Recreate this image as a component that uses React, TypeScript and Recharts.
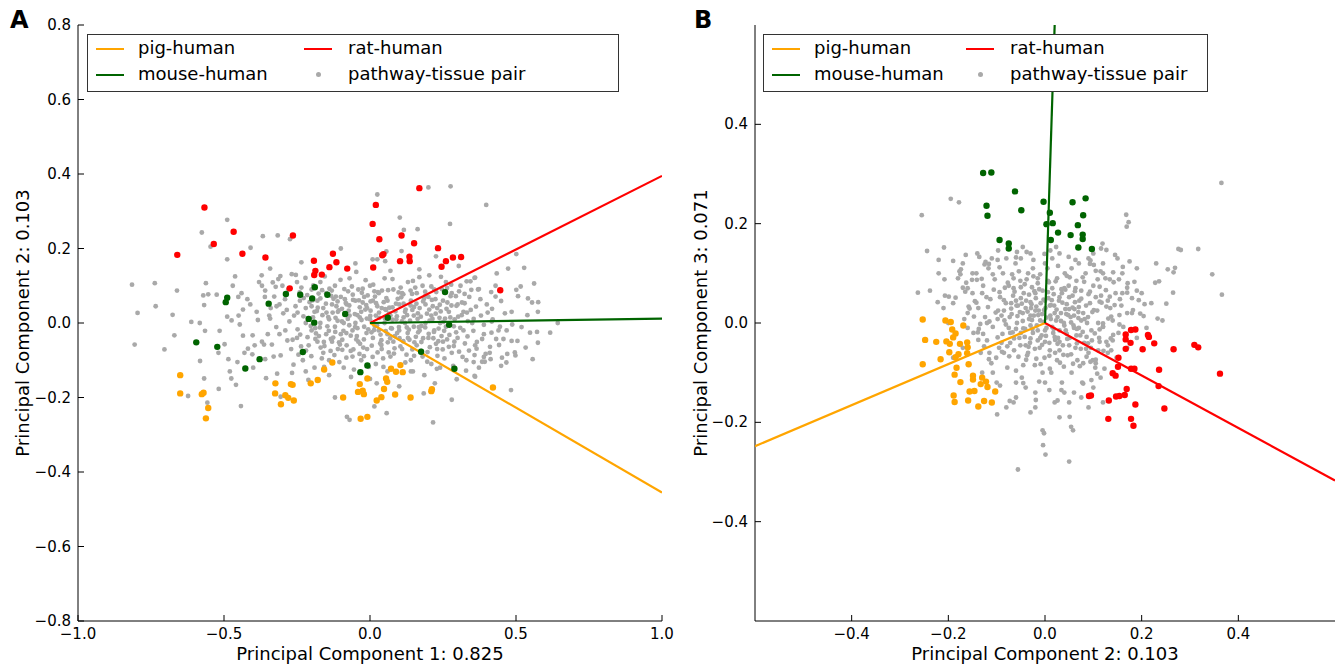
import React from 'react';
import { ScatterChart, Scatter, XAxis, YAxis } from 'recharts';

type Pt = [number, number];

// ---- Panel A: PC1 vs PC2 ----
const ticksAX = [-1.0, -0.5, 0.0, 0.5, 1.0];
const ticksAY = [-0.8, -0.6, -0.4, -0.2, 0.0, 0.2, 0.4, 0.6, 0.8];

const pigLineA: Pt[] = [[0, 0], [1.0, -0.455]];
const ratLineA: Pt[] = [[0, 0], [1.0, 0.395]];
const mouseLineA: Pt[] = [[0, 0], [1.0, 0.012]];

const pigA: Pt[] = [
  [-0.65, -0.14], [-0.65, -0.189], [-0.576, -0.191], [-0.57, -0.187], [-0.554, -0.228], [-0.562, -0.256],
  [-0.324, -0.162], [-0.271, -0.164], [-0.265, -0.166], [-0.325, -0.189], [-0.29, -0.194], [-0.28, -0.201],
  [-0.261, -0.208], [-0.305, -0.218], [-0.203, -0.162], [-0.179, -0.153], [-0.157, -0.125], [-0.129, -0.106],
  [-0.092, -0.2], [-0.035, -0.164], [-0.009, -0.149], [-0.041, -0.185], [-0.025, -0.182], [-0.021, -0.191],
  [-0.032, -0.257], [-0.009, -0.252], [0.072, -0.123], [0.089, -0.131], [0.112, -0.132], [0.104, -0.113],
  [0.055, -0.149], [0.059, -0.158], [0.048, -0.177], [0.023, -0.208], [0.039, -0.199], [0.086, -0.192],
  [0.139, -0.2], [0.21, -0.183], [0.212, -0.178], [0.421, -0.173],
];
const ratA: Pt[] = [
  [-0.567, 0.31], [-0.66, 0.183], [-0.467, 0.245], [-0.535, 0.212], [-0.437, 0.186], [-0.358, 0.176],
  [-0.264, 0.235], [-0.192, 0.167], [-0.127, 0.186], [-0.115, 0.163], [-0.187, 0.14], [-0.191, 0.129],
  [-0.165, 0.13], [-0.139, 0.15], [-0.078, 0.146], [-0.275, 0.093], [0.169, 0.362], [0.02, 0.317],
  [0.009, 0.266], [0.032, 0.225], [0.108, 0.235], [0.151, 0.214], [0.046, 0.185], [0.042, 0.182],
  [0.103, 0.166], [0.135, 0.178], [0.136, 0.166], [0.233, 0.201], [0.26, 0.166], [0.284, 0.176],
  [0.312, 0.177], [0.245, 0.151], [0.011, 0.149], [0.446, 0.088],
];
const mouseA: Pt[] = [
  [-0.189, 0.096], [-0.288, 0.078], [-0.239, 0.076], [-0.198, 0.066], [-0.146, 0.076], [-0.489, 0.068],
  [-0.494, 0.056], [-0.347, 0.052], [-0.085, 0.024], [-0.21, 0.011], [-0.191, 0.001], [0.061, 0.014],
  [0.257, 0.083], [0.271, -0.005], [-0.595, -0.052], [-0.523, -0.064], [-0.378, -0.097], [-0.427, -0.122],
  [-0.23, -0.078], [-0.033, -0.132], [-0.009, -0.114], [0.175, -0.077], [0.289, -0.123],
];
const grayA: Pt[] = [
  // outer points, left side
  [-0.489, 0.277], [-0.576, 0.243], [-0.546, 0.205], [-0.489, 0.171], [-0.367, 0.233], [-0.316, 0.235],
  [-0.409, 0.202], [-0.462, 0.125], [-0.562, 0.107], [-0.815, 0.103], [-0.737, 0.107], [-0.661, 0.087],
  [-0.734, 0.045], [-0.796, 0.027], [-0.676, 0.022], [-0.612, 0.003], [-0.806, -0.058], [-0.704, -0.071],
  [-0.67, -0.033], [-0.582, -0.102], [-0.568, -0.149], [-0.623, -0.196], [-0.557, -0.214], [-0.518, -0.177],
  [-0.475, -0.149], [-0.459, -0.166], [-0.442, -0.223], [-0.571, 0.074], [-0.554, 0.077], [-0.568, 0.048],
  [-0.583, 0.0], [-0.565, -0.021], [-0.489, 0.017], [-0.515, -0.021], [-0.519, -0.08], [-0.485, -0.097],
  [-0.498, -0.057], [-0.454, -0.105], [-0.446, -0.004], [-0.474, 0.007], [-0.525, 0.076], [-0.44, 0.08],
  [-0.451, 0.07], [-0.435, 0.036], [-0.42, 0.064], [-0.435, -0.034], [-0.418, -0.069], [-0.403, -0.084],
  [-0.359, -0.097], [-0.363, -0.058], [-0.402, -0.033], [-0.384, 0.008], [-0.37, 0.1], [-0.359, 0.087],
  [-0.342, 0.146], [-0.307, 0.126], [-0.371, 0.128], [-0.333, 0.109], [-0.323, 0.097], [-0.32, 0.045],
  [-0.356, -0.148], [-0.318, -0.136], [-0.267, -0.134], [-0.306, -0.198], [-0.235, 0.163], [-0.254, 0.129],
  [-0.211, -0.153], [-0.274, 0.225], [-0.388, 0.03], [-0.395, -0.06], [-0.345, 0.02], [-0.35, -0.03],
  // upper middle
  [0.025, 0.345], [0.2, 0.364], [0.276, 0.367], [0.398, 0.317], [0.102, 0.283], [0.274, 0.266],
  [0.116, 0.25], [0.163, 0.252], [0.108, 0.193], [0.056, 0.192], [0.025, 0.171], [0.009, 0.171],
  [0.052, 0.166], [0.169, 0.144], [0.203, 0.128], [0.226, 0.179], [0.147, 0.113], [0.243, 0.124],
  [0.304, 0.153], [0.331, 0.112], [0.36, 0.122], [-0.05, 0.16], [-0.1, 0.2], [0.07, 0.14],
  // right side
  [0.501, 0.185], [0.434, 0.133], [0.473, 0.146], [0.528, 0.148], [0.358, 0.121], [0.562, 0.106],
  [0.516, 0.098], [0.501, 0.089], [0.373, 0.091], [0.415, 0.083], [0.541, 0.066], [0.576, 0.056],
  [0.555, 0.055], [0.507, 0.072], [0.449, 0.059], [0.418, 0.038], [0.363, 0.044], [0.485, 0.03],
  [0.462, 0.026], [0.575, 0.03], [0.539, 0.021], [0.643, 0.0], [0.617, -0.026], [0.572, -0.024],
  [0.548, -0.026], [0.519, -0.011], [0.487, -0.004], [0.468, -0.02], [0.445, -0.01], [0.417, 0.004],
  [0.39, -0.005], [0.384, -0.043], [0.432, -0.043], [0.457, -0.043], [0.485, -0.048], [0.505, -0.048],
  [0.575, -0.053], [0.442, -0.059], [0.411, -0.064], [0.365, -0.069], [0.533, -0.066], [0.496, -0.079],
  [0.47, -0.083], [0.396, -0.083], [0.358, -0.086], [0.413, -0.097], [0.452, -0.093], [0.498, -0.087],
  [0.557, -0.097], [0.467, -0.106], [0.393, -0.104], [0.449, -0.115], [0.373, -0.12], [0.358, -0.142],
  [0.483, -0.18],
  // lower middle
  [0.216, -0.267], [0.28, -0.206], [0.186, -0.14], [0.222, -0.162], [0.229, -0.123], [0.147, -0.13],
  [0.184, -0.189], [0.057, -0.242], [0.015, -0.224], [0.023, -0.162], [0.297, -0.151], [0.329, -0.128],
  [0.36, -0.144], [0.384, -0.104], [-0.079, -0.252], [-0.07, -0.26], [-0.12, -0.2], [0.1, -0.17],
  // dense core
  [-0.31, 0.05], [-0.29, -0.02], [-0.28, 0.09], [-0.27, -0.07], [-0.26, 0.02], [-0.25, 0.11],
  [-0.25, -0.04], [-0.24, 0.06], [-0.23, -0.1], [-0.22, 0.0], [-0.22, 0.04], [-0.21, -0.06],
  [-0.2, 0.09], [-0.2, -0.02], [-0.19, 0.03], [-0.19, -0.12], [-0.18, 0.06], [-0.18, -0.05],
  [-0.17, 0.0], [-0.17, 0.11], [-0.16, -0.08], [-0.16, 0.04], [-0.15, -0.03], [-0.15, 0.08],
  [-0.14, 0.01], [-0.14, -0.1], [-0.13, 0.05], [-0.13, -0.05], [-0.12, 0.1], [-0.12, -0.01],
  [-0.11, 0.03], [-0.11, -0.07], [-0.1, 0.07], [-0.1, -0.03], [-0.09, 0.0], [-0.09, -0.12],
  [-0.08, 0.05], [-0.08, -0.06], [-0.07, 0.12], [-0.07, 0.02], [-0.06, -0.02], [-0.06, -0.09],
  [-0.05, 0.06], [-0.05, 0.0], [-0.04, -0.05], [-0.04, 0.09], [-0.03, 0.03], [-0.03, -0.1],
  [-0.02, -0.01], [-0.02, 0.07], [-0.01, 0.04], [-0.01, -0.07], [0.0, 0.01], [0.0, 0.1],
  [0.01, -0.04], [0.01, 0.06], [0.02, -0.11], [0.02, 0.02], [0.03, -0.02], [0.03, 0.08],
  [0.04, 0.04], [0.04, -0.07], [0.05, 0.0], [0.05, 0.12], [0.06, -0.03], [0.06, 0.06],
  [0.07, -0.09], [0.07, 0.02], [0.08, 0.09], [0.08, -0.05], [0.09, 0.01], [0.09, -0.13],
  [0.1, 0.05], [0.1, -0.02], [0.11, 0.08], [0.11, -0.07], [0.12, 0.0], [0.12, 0.03],
  [0.13, -0.04], [0.13, 0.11], [0.14, 0.06], [0.14, -0.1], [0.15, -0.01], [0.15, 0.02],
  [0.16, 0.08], [0.16, -0.06], [0.17, 0.04], [0.17, -0.02], [0.18, -0.09], [0.18, 0.1],
  [0.19, 0.0], [0.19, 0.05], [0.2, -0.04], [0.2, 0.07], [0.21, -0.11], [0.21, 0.02],
  [0.22, 0.09], [0.22, -0.02], [0.23, 0.04], [0.23, -0.07], [0.24, 0.0], [0.25, 0.06],
  [0.25, -0.05], [0.26, 0.11], [0.26, -0.01], [0.27, 0.03], [0.28, -0.08], [0.28, 0.08],
  [0.29, 0.01], [0.3, -0.04], [0.3, 0.05], [0.31, 0.1], [0.32, -0.02], [0.32, 0.03],
  [0.33, -0.1], [0.34, 0.07], [0.35, 0.0], [0.36, -0.06], [0.37, 0.09], [0.38, 0.02],
  [0.39, -0.03], [0.4, 0.05], [0.41, -0.08], [0.42, 0.01], [0.43, 0.1], [0.44, -0.02],
  [-0.285, 0.035], [-0.245, -0.085], [-0.215, 0.075], [-0.175, -0.035], [-0.155, 0.125], [-0.135, -0.075],
  [-0.115, 0.045], [-0.095, -0.045], [-0.075, 0.085], [-0.055, -0.125], [-0.035, 0.015], [-0.015, 0.115],
  [0.005, -0.025], [0.025, 0.045], [0.045, -0.095], [0.065, 0.025], [0.085, -0.035], [0.105, 0.095],
  [0.125, -0.085], [0.145, 0.035], [0.165, -0.025], [0.185, 0.065], [0.205, -0.065], [0.225, 0.025],
  [0.245, -0.035], [0.265, 0.055], [0.285, -0.115], [0.305, 0.085], [0.325, -0.055], [0.345, 0.035],
  [-0.265, -0.045], [-0.235, 0.095], [-0.195, 0.015], [-0.165, -0.095], [-0.125, 0.065], [-0.085, 0.025],
  [-0.045, -0.035], [-0.025, 0.055], [0.015, 0.085], [0.035, -0.055], [0.055, 0.035], [0.075, -0.015],
  [0.095, 0.065], [0.115, 0.015], [0.135, -0.045], [0.155, 0.095], [0.175, -0.075], [0.195, 0.025],
  [0.215, 0.045], [0.235, -0.015], [0.255, -0.095], [0.275, 0.015], [0.295, -0.025], [0.315, 0.055],
  [0.335, 0.005], [0.355, -0.105], [-0.105, -0.105], [-0.065, -0.145], [0.0, -0.15], [0.06, -0.13],
  [-0.14, -0.14], [-0.22, -0.13], [0.14, -0.13], [0.24, -0.12],
  [-0.342, 0.012], [-0.336, -0.058], [-0.328, 0.071], [-0.321, -0.011], [-0.314, 0.118], [-0.306, -0.087],
  [-0.297, 0.026], [-0.291, 0.064], [-0.283, -0.047], [-0.276, 0.004], [-0.268, 0.131], [-0.262, -0.112],
  [-0.255, 0.045], [-0.248, -0.017], [-0.241, 0.082], [-0.236, -0.063], [-0.228, 0.018], [-0.221, 0.121],
  [-0.214, -0.038], [-0.207, 0.056], [-0.201, -0.089], [-0.194, 0.101], [-0.188, -0.014], [-0.182, 0.032],
  [-0.176, 0.079], [-0.169, -0.066], [-0.163, 0.021], [-0.157, -0.118], [-0.151, 0.052], [-0.146, -0.009],
  [-0.139, 0.092], [-0.134, -0.043], [-0.128, 0.028], [-0.122, -0.086], [-0.117, 0.071], [-0.111, 0.006],
  [-0.106, -0.052], [-0.101, 0.116], [-0.096, 0.038], [-0.091, -0.021], [-0.086, 0.064], [-0.081, -0.093],
  [-0.076, 0.011], [-0.071, 0.047], [-0.066, -0.034], [-0.062, 0.098], [-0.057, -0.071], [-0.052, 0.024],
  [-0.047, 0.137], [-0.043, -0.014], [-0.038, 0.061], [-0.034, -0.056], [-0.029, 0.008], [-0.025, 0.092],
  [-0.021, -0.089], [-0.016, 0.036], [-0.012, -0.027], [-0.008, 0.074], [-0.004, -0.118], [0.001, 0.019],
  [0.006, -0.061], [0.011, 0.103], [0.016, -0.008], [0.021, 0.053], [0.026, -0.079], [0.031, 0.028],
  [0.036, -0.031], [0.041, 0.087], [0.046, -0.118], [0.051, 0.012], [0.056, 0.067], [0.061, -0.052],
  [0.066, 0.041], [0.072, -0.014], [0.077, 0.118], [0.082, -0.082], [0.087, 0.031], [0.093, -0.027],
  [0.098, 0.082], [0.104, -0.063], [0.109, 0.004], [0.115, 0.052], [0.121, -0.106], [0.127, 0.021],
  [0.133, -0.018], [0.139, 0.087], [0.145, -0.071], [0.151, 0.043], [0.157, -0.037], [0.163, 0.011],
  [0.169, 0.123], [0.176, -0.051], [0.182, 0.058], [0.189, -0.012], [0.196, -0.104], [0.203, 0.036],
  [0.21, 0.098], [0.217, -0.041], [0.224, 0.064], [0.231, -0.088], [0.238, 0.014], [0.246, 0.091],
  [0.254, -0.021], [0.262, 0.038], [0.27, -0.064], [0.278, 0.103], [0.287, -0.009], [0.296, 0.046],
  [0.305, -0.077], [0.314, 0.021], [0.324, 0.078], [0.334, -0.036], [0.344, 0.112], [0.355, 0.011],
  [0.366, -0.051], [0.378, 0.064], [0.39, -0.091], [0.403, 0.028], [0.416, -0.026], [0.43, 0.071],
  [-0.2, 0.045], [-0.185, -0.028], [-0.17, 0.066], [-0.158, -0.051], [-0.143, 0.016], [-0.131, 0.087],
  [-0.119, -0.024], [-0.107, 0.034], [-0.095, -0.072], [-0.083, 0.054], [-0.071, -0.006], [-0.059, 0.076],
  [-0.047, -0.044], [-0.035, 0.042], [-0.023, -0.066], [-0.011, 0.012], [0.002, 0.058], [0.014, -0.019],
  [0.027, 0.083], [0.039, -0.046], [0.052, 0.037], [0.064, -0.079], [0.077, 0.009], [0.089, 0.052],
  [0.101, -0.041], [0.114, 0.077], [0.126, -0.012], [0.139, 0.047], [0.151, -0.088], [0.164, 0.026],
  [0.176, -0.008], [0.189, 0.084], [0.201, -0.029], [0.214, 0.011], [0.226, -0.056], [0.239, 0.049],
  [0.251, 0.003], [0.264, -0.044], [0.276, 0.072], [0.289, -0.05], [-0.31, -0.03], [-0.3, 0.1],
  [-0.34, 0.04], [-0.33, -0.09], [-0.36, 0.07], [-0.37, -0.05], [-0.38, 0.11], [-0.4, -0.12],
  [-0.41, 0.05], [-0.43, -0.08], [-0.45, 0.02], [-0.47, 0.1], [-0.48, -0.13],
  [-0.248, 0.028], [-0.239, -0.031], [-0.227, 0.067], [-0.219, -0.074], [-0.212, 0.013], [-0.203, -0.008],
  [-0.196, 0.061], [-0.187, -0.043], [-0.179, 0.041], [-0.172, -0.012], [-0.164, 0.088], [-0.156, -0.062],
  [-0.149, 0.028], [-0.141, -0.021], [-0.133, 0.073], [-0.126, -0.039], [-0.118, 0.014], [-0.111, 0.058],
  [-0.103, -0.058], [-0.096, 0.004], [-0.088, 0.091], [-0.081, -0.027], [-0.073, 0.033], [-0.066, -0.075],
  [-0.058, 0.062], [-0.051, -0.011], [-0.043, 0.021], [-0.036, -0.083], [-0.028, 0.081], [-0.021, -0.044],
  [-0.013, 0.048], [-0.006, -0.017], [0.002, 0.033], [0.009, -0.091], [0.017, 0.071], [0.024, -0.006],
  [0.032, 0.014], [0.039, -0.059], [0.047, 0.056], [0.054, -0.022], [0.062, 0.088], [0.069, -0.041],
  [0.077, 0.042], [0.084, -0.068], [0.092, 0.018], [0.099, -0.011], [0.107, 0.069], [0.114, -0.049],
  [0.122, 0.036], [0.129, -0.027], [0.137, 0.006], [0.144, 0.078], [0.152, -0.052], [0.159, 0.052],
  [0.167, -0.011], [0.174, 0.017], [0.182, -0.041], [0.189, 0.072], [0.197, -0.078], [0.204, 0.006],
  [0.212, 0.062], [0.219, -0.024], [0.227, 0.083], [0.234, -0.049], [0.242, 0.031], [0.249, -0.071],
  [0.257, 0.012], [0.264, 0.094], [0.272, -0.032], [0.279, 0.047], [0.287, -0.062], [0.294, 0.072],
  [0.302, 0.017], [0.309, -0.013], [0.317, -0.091], [0.324, 0.053], [0.332, 0.028], [0.339, -0.074],
  [0.347, 0.089], [0.354, -0.021],
];

// ---- Panel B: PC2 vs PC3 ----
const ticksBX = [-0.4, -0.2, 0.0, 0.2, 0.4];
const ticksBY = [-0.4, -0.2, 0.0, 0.2, 0.4];

const pigLineB: Pt[] = [[0, 0], [-0.6, -0.248]];
const ratLineB: Pt[] = [[0, 0], [0.6, -0.317]];
const mouseLineB: Pt[] = [[0, 0], [0.02, 0.6]];

const pigB: Pt[] = [
  [-0.253, 0.007], [-0.248, -0.034], [-0.253, -0.083], [-0.206, 0.005], [-0.195, 0.002], [-0.169, -0.005],
  [-0.192, -0.013], [-0.185, -0.021], [-0.19, -0.029], [-0.225, -0.038], [-0.204, -0.037], [-0.197, -0.042],
  [-0.176, -0.042], [-0.161, -0.039], [-0.16, -0.049], [-0.198, -0.059], [-0.179, -0.063], [-0.185, -0.069],
  [-0.161, -0.061], [-0.216, -0.073], [-0.158, -0.083], [-0.183, -0.09], [-0.187, -0.104], [-0.175, -0.119],
  [-0.149, -0.106], [-0.149, -0.114], [-0.13, -0.11], [-0.122, -0.118], [-0.133, -0.123], [-0.119, -0.129],
  [-0.146, -0.137], [-0.156, -0.138], [-0.103, -0.138], [-0.189, -0.146], [-0.187, -0.159], [-0.159, -0.156],
  [-0.126, -0.157], [-0.11, -0.16], [-0.138, -0.168],
];
const ratB: Pt[] = [
  [0.167, -0.023], [0.178, -0.014], [0.187, -0.013], [0.213, -0.024], [0.215, -0.028], [0.167, -0.033],
  [0.177, -0.04], [0.226, -0.041], [0.167, -0.052], [0.202, -0.053], [0.266, -0.053], [0.309, -0.044],
  [0.317, -0.049], [0.152, -0.07], [0.151, -0.088], [0.178, -0.092], [0.185, -0.092], [0.236, -0.094],
  [0.362, -0.102], [0.14, -0.101], [0.146, -0.106], [0.235, -0.127], [0.169, -0.133], [0.095, -0.146],
  [0.091, -0.147], [0.147, -0.148], [0.154, -0.147], [0.165, -0.145], [0.132, -0.156], [0.187, -0.164],
  [0.247, -0.172], [0.131, -0.193], [0.178, -0.193], [0.183, -0.207],
];
const mouseB: Pt[] = [
  [-0.128, 0.302], [-0.111, 0.303], [-0.062, 0.265], [-0.121, 0.236], [-0.119, 0.216], [-0.049, 0.227],
  [-0.003, 0.244], [0.01, 0.222], [0.003, 0.199], [0.016, 0.201], [0.027, 0.182], [0.012, 0.167],
  [0.057, 0.243], [0.084, 0.251], [0.079, 0.217], [0.068, 0.197], [0.078, 0.178], [0.078, 0.169],
  [0.053, 0.177], [0.069, 0.152], [0.097, 0.149], [-0.094, 0.167], [-0.075, 0.16], [-0.075, 0.15],
];
const grayB: Pt[] = [
  // outer points, left and bottom
  [-0.195, 0.25], [-0.178, 0.243], [-0.255, 0.217], [-0.244, 0.145], [-0.209, 0.152], [-0.22, 0.127],
  [-0.19, 0.125], [-0.164, 0.137], [-0.136, 0.133], [-0.097, 0.146], [-0.058, 0.143], [-0.046, 0.153],
  [-0.177, 0.104], [-0.208, 0.088], [-0.263, 0.061], [-0.238, 0.065], [-0.222, 0.042], [-0.207, 0.055],
  [-0.185, 0.051], [-0.158, 0.033], [-0.167, 0.008], [-0.134, -0.002], [-0.139, -0.019], [-0.138, -0.034],
  [-0.116, -0.073], [-0.108, -0.1], [-0.093, -0.126], [-0.073, -0.157], [-0.065, -0.16], [-0.099, -0.184],
  [-0.045, -0.121], [-0.019, -0.155], [-0.005, -0.216], [-0.004, -0.246], [-0.002, -0.222], [-0.056, -0.295],
  [0.001, -0.265], [0.051, -0.189], [0.054, -0.209], [0.058, -0.216], [0.05, -0.279], [0.026, -0.156],
  [0.034, -0.135], [0.009, -0.135], [-0.098, 0.127], [-0.123, 0.123], [-0.116, 0.119], [-0.06, 0.132],
  [-0.038, 0.143], [-0.024, 0.127], [-0.001, 0.139], [0.023, 0.153], [0.011, 0.146], [0.049, 0.133],
  [0.063, 0.127], [-0.174, 0.108], [-0.175, 0.098], [-0.163, 0.081], [-0.151, 0.087], [-0.141, 0.087],
  [-0.17, 0.071], [-0.156, 0.029], [-0.165, 0.063], [-0.199, 0.053], [-0.145, 0.044], [-0.147, 0.013],
  // right side
  [0.365, 0.282], [0.168, 0.218], [0.173, 0.203], [0.169, 0.194], [0.119, 0.16], [0.127, 0.147],
  [0.116, 0.15], [0.145, 0.137], [0.276, 0.149], [0.281, 0.147], [0.317, 0.149], [0.175, 0.124],
  [0.161, 0.113], [0.254, 0.108], [0.269, 0.111], [0.266, 0.102], [0.346, 0.098], [0.228, 0.081],
  [0.236, 0.084], [0.171, 0.08], [0.185, 0.083], [0.153, 0.088], [0.134, 0.088], [0.141, 0.102],
  [0.115, 0.104], [0.093, 0.119], [0.094, 0.126], [0.101, 0.117], [0.265, 0.061], [0.366, 0.057],
  [0.19, 0.065], [0.17, 0.061], [0.194, 0.046], [0.206, 0.038], [0.251, 0.039], [0.197, 0.019],
  [0.204, 0.014], [0.182, 0.026], [0.233, 0.009], [0.243, 0.005], [0.154, 0.016], [0.154, -0.003],
  [0.137, 0.013], [0.144, 0.036], [0.127, 0.033], [0.134, 0.053], [0.113, 0.073], [0.113, 0.043],
  [0.105, 0.052], [0.12, -0.001], [0.141, -0.024], [0.127, -0.038], [0.137, -0.055], [0.11, -0.055],
  [0.105, -0.081], [0.123, -0.092], [0.108, -0.102], [0.096, -0.115], [0.079, -0.122], [0.079, -0.081],
  [0.086, -0.068], [0.099, -0.075], [0.089, -0.041], [0.113, -0.038], [0.103, -0.021], [0.12, -0.007],
  // dense core
  [-0.15, 0.06], [-0.148, -0.02], [-0.142, 0.1], [-0.138, 0.03], [-0.133, -0.06], [-0.128, 0.075],
  [-0.124, 0.012], [-0.12, -0.035], [-0.117, 0.11], [-0.113, 0.048], [-0.108, -0.008], [-0.104, 0.088],
  [-0.101, -0.07], [-0.097, 0.025], [-0.094, 0.062], [-0.09, -0.04], [-0.087, 0.1], [-0.084, 0.005],
  [-0.081, 0.04], [-0.078, -0.09], [-0.075, 0.075], [-0.072, -0.02], [-0.069, 0.018], [-0.066, 0.055],
  [-0.064, -0.055], [-0.061, 0.12], [-0.058, 0.0], [-0.056, 0.035], [-0.053, -0.03], [-0.051, 0.085],
  [-0.048, -0.11], [-0.046, 0.02], [-0.044, 0.06], [-0.041, -0.012], [-0.039, 0.045], [-0.037, -0.065],
  [-0.035, 0.1], [-0.033, 0.008], [-0.031, -0.04], [-0.029, 0.03], [-0.027, 0.072], [-0.025, -0.02],
  [-0.023, 0.015], [-0.021, -0.085], [-0.019, 0.05], [-0.017, -0.005], [-0.015, 0.09], [-0.013, 0.025],
  [-0.011, -0.05], [-0.009, 0.04], [-0.007, -0.025], [-0.005, 0.065], [-0.003, 0.002], [-0.001, -0.07],
  [0.001, 0.03], [0.003, -0.01], [0.005, 0.11], [0.007, 0.05], [0.009, -0.04], [0.011, 0.015],
  [0.013, -0.1], [0.015, 0.07], [0.017, -0.02], [0.019, 0.035], [0.021, -0.06], [0.023, 0.005],
  [0.025, 0.09], [0.027, -0.03], [0.029, 0.045], [0.031, -0.08], [0.033, 0.02], [0.035, 0.06],
  [0.037, -0.045], [0.039, 0.0], [0.041, 0.1], [0.043, -0.015], [0.045, 0.038], [0.047, -0.065],
  [0.049, 0.075], [0.051, -0.03], [0.053, 0.012], [0.055, -0.1], [0.057, 0.055], [0.059, -0.005],
  [0.061, 0.028], [0.063, -0.05], [0.065, 0.085], [0.067, -0.075], [0.069, 0.01], [0.071, 0.045],
  [0.073, -0.025], [0.075, 0.065], [0.077, -0.12], [0.079, 0.02], [0.081, -0.04], [0.084, 0.1],
  [0.087, 0.0], [0.09, -0.06], [0.093, 0.04], [0.096, -0.015], [0.1, 0.075], [0.104, -0.09],
  [0.108, 0.025], [0.112, -0.03], [0.116, 0.055], [0.12, -0.008], [0.125, 0.09], [0.13, -0.045],
  [0.135, 0.03], [0.14, 0.005], [0.146, 0.06], [0.152, -0.02], [0.158, 0.035],
  [-0.09, 0.015], [-0.07, 0.04], [-0.06, -0.012], [-0.05, 0.05], [-0.04, -0.045], [-0.03, 0.015],
  [-0.02, 0.06], [-0.01, -0.03], [0.0, 0.045], [0.01, -0.055], [0.02, 0.02], [0.03, -0.015],
  [0.04, 0.07], [0.05, -0.045], [0.06, 0.015], [0.07, -0.01], [-0.085, -0.06], [-0.065, 0.09],
  [-0.045, -0.085], [-0.025, 0.11], [-0.005, -0.1], [0.015, 0.13], [0.035, -0.12], [0.055, 0.11],
  [-0.11, 0.13], [-0.13, -0.1], [-0.16, 0.02], [-0.17, -0.05], [-0.18, 0.09], [0.17, -0.05],
  [0.18, 0.02], [0.19, -0.03], [-0.1, -0.12], [-0.06, -0.15], [-0.02, -0.14], [0.02, -0.16],
  [0.06, -0.14], [0.1, -0.13], [0.12, 0.12], [0.09, 0.13], [-0.08, 0.13], [-0.2, 0.0],
  [-0.19, -0.07], [0.2, 0.06], [0.16, 0.1], [-0.015, -0.035], [0.012, 0.008], [-0.028, 0.038],
  [0.026, -0.042], [-0.052, 0.022], [0.044, 0.018], [0.008, 0.082], [-0.012, -0.118], [0.062, 0.042],
  [-0.072, -0.04],
  [-0.142, 0.041], [-0.137, -0.012], [-0.131, 0.089], [-0.126, -0.047], [-0.121, 0.052], [-0.115, 0.003],
  [-0.111, -0.081], [-0.106, 0.067], [-0.102, 0.021], [-0.098, -0.029], [-0.094, 0.112], [-0.089, -0.058],
  [-0.085, 0.046], [-0.081, -0.003], [-0.077, 0.081], [-0.074, -0.067], [-0.07, 0.029], [-0.067, -0.019],
  [-0.063, 0.063], [-0.06, -0.096], [-0.057, 0.014], [-0.054, 0.104], [-0.051, -0.045], [-0.048, 0.039],
  [-0.045, -0.011], [-0.042, 0.078], [-0.039, -0.074], [-0.036, 0.023], [-0.033, 0.057], [-0.03, -0.031],
  [-0.027, 0.006], [-0.024, 0.094], [-0.021, -0.052], [-0.018, 0.033], [-0.015, -0.015], [-0.012, 0.068],
  [-0.009, -0.083], [-0.006, 0.018], [-0.003, 0.047], [0.0, -0.038], [0.003, 0.011], [0.006, 0.085],
  [0.009, -0.066], [0.012, 0.036], [0.015, -0.008], [0.018, 0.058], [0.021, -0.034], [0.024, 0.027],
  [0.027, 0.115], [0.03, -0.055], [0.033, 0.004], [0.036, 0.041], [0.039, -0.088], [0.042, 0.067],
  [0.045, -0.022], [0.048, 0.016], [0.051, 0.092], [0.054, -0.063], [0.057, 0.031], [0.06, -0.01],
  [0.063, 0.07], [0.066, -0.041], [0.069, 0.022], [0.072, -0.087], [0.075, 0.049], [0.078, -0.018],
  [0.081, 0.083], [0.085, -0.052], [0.089, 0.012], [0.093, 0.063], [0.097, -0.035], [0.101, 0.026],
  [0.105, -0.074], [0.109, 0.088], [0.113, -0.013], [0.117, 0.041], [0.121, -0.056], [0.126, 0.066],
  [0.131, 0.009], [0.136, -0.031], [0.142, 0.082], [0.148, -0.07], [0.155, 0.048], [0.162, -0.008],
  [0.17, 0.071], [-0.03, -0.005], [-0.02, 0.025], [-0.01, 0.005], [0.0, -0.015], [0.01, 0.035],
  [0.02, -0.028], [0.03, 0.052], [-0.04, 0.03], [-0.05, -0.02], [0.04, -0.005], [0.05, 0.028],
  [-0.06, 0.045], [0.065, -0.025], [-0.035, -0.06], [0.025, -0.075], [-0.015, 0.08], [0.045, 0.095],
  [-0.065, 0.07], [0.075, 0.005], [-0.075, -0.01], [0.085, 0.035], [-0.085, 0.025], [0.095, -0.05],
  [-0.095, -0.05], [0.0, 0.12], [0.0, -0.12], [-0.12, 0.0], [0.11, 0.0], [-0.13, 0.06],
  [0.13, -0.06], [-0.115, -0.06], [0.12, 0.1], [-0.04, -0.13], [0.04, -0.14], [-0.05, 0.13],
  [0.07, 0.12], [-0.16, 0.07], [0.18, 0.05], [-0.21, 0.03], [-0.22, 0.1], [0.21, -0.01],
  [0.22, 0.04], [0.09, -0.17], [0.03, -0.19], [-0.03, -0.18], [-0.08, -0.17], [0.12, -0.16],
  [-0.17, 0.12], [-0.14, 0.14], [0.15, 0.13], [0.19, 0.11], [0.23, 0.12],
  [-0.098, 0.008], [-0.093, 0.052], [-0.088, -0.022], [-0.083, 0.071], [-0.078, -0.047], [-0.073, 0.012],
  [-0.068, 0.098], [-0.064, -0.031], [-0.059, 0.035], [-0.055, -0.068], [-0.05, 0.072], [-0.046, 0.004],
  [-0.042, -0.028], [-0.038, 0.088], [-0.034, -0.048], [-0.03, 0.042], [-0.026, -0.012], [-0.022, 0.064],
  [-0.018, -0.072], [-0.014, 0.016], [-0.01, 0.098], [-0.006, -0.044], [-0.002, 0.026], [0.002, -0.026],
  [0.006, 0.062], [0.01, -0.092], [0.014, 0.046], [0.018, -0.012], [0.022, 0.084], [0.026, 0.012],
  [0.03, -0.038], [0.034, 0.068], [0.038, -0.064], [0.042, 0.028], [0.046, -0.032], [0.05, 0.052],
  [0.054, 0.001], [0.058, -0.082], [0.062, 0.064], [0.066, -0.012], [0.07, 0.032], [0.074, -0.052],
  [0.078, 0.092], [0.082, 0.008], [0.086, -0.028], [0.09, 0.058], [0.094, -0.078], [0.098, 0.022],
  [-0.118, 0.032], [-0.128, -0.022], [-0.108, 0.098], [-0.125, 0.118], [0.105, 0.105], [0.13, 0.045],
  [0.14, -0.035], [0.115, -0.11], [-0.06, -0.12], [0.05, -0.16], [-0.02, -0.17], [0.075, -0.15],
  [0.03, 0.14], [-0.03, 0.14], [0.1, 0.14], [-0.15, 0.1], [-0.19, 0.04], [-0.16, -0.01],
  [0.16, 0.06], [0.17, 0.02],
];

const ORANGE = '#ffa500';
const RED = '#ff0000';
const GREEN = '#006400';
const GRAY = '#a9a9a9';
const FONT = 'DejaVu Sans, Verdana, sans-serif';

const toXY = (pts: Pt[]) => pts.map(([x, y]) => ({ x, y }));
const fmt = (v: number) => (v < 0 ? '\u2212' : '') + Math.abs(v).toFixed(1);

const BottomTick = (p: any) => (
  <g>
    <line x1={p.x} y1={p.y} x2={p.x} y2={p.y - 6} stroke="#000" />
    <text x={p.x} y={p.y + 18} textAnchor="middle" fontSize={15} fontFamily={FONT} fill="#000">
      {fmt(p.payload.value)}
    </text>
  </g>
);
const TopTick = (p: any) => <line x1={p.x} y1={p.y} x2={p.x} y2={p.y + 6} stroke="#000" />;
const LeftTick = (p: any) => (
  <g>
    <line x1={p.x} y1={p.y} x2={p.x + 6} y2={p.y} stroke="#000" />
    <text x={p.x - 7} y={p.y + 5} textAnchor="end" fontSize={15} fontFamily={FONT} fill="#000">
      {fmt(p.payload.value)}
    </text>
  </g>
);
const RightTick = (p: any) => <line x1={p.x} y1={p.y} x2={p.x - 6} y2={p.y} stroke="#000" />;

const dot = (color: string, r: number) => (p: any) => <circle cx={p.cx} cy={p.cy} r={r} fill={color} />;
const noDot = () => <g />;

function Panel(props: {
  width: number;
  yAxisWidth: number;
  xDomain: [number, number];
  yDomain: [number, number];
  xTicks: number[];
  yTicks: number[];
  gray: Pt[];
  pig: Pt[];
  rat: Pt[];
  mouse: Pt[];
  pigLine: Pt[];
  ratLine: Pt[];
  mouseLine: Pt[];
  right: number;
}) {
  const axisLine = { stroke: '#000', strokeWidth: 1 };
  return (
    <ScatterChart width={props.width} height={666} margin={{ top: 25, right: props.right, bottom: 0, left: 0 }}>
      <XAxis type="number" dataKey="x" xAxisId="b" domain={props.xDomain} ticks={props.xTicks} allowDataOverflow
        height={45} tickSize={0} tickMargin={0} axisLine={axisLine} tick={BottomTick} interval={0} />
      <XAxis type="number" dataKey="x" xAxisId="t" orientation="top" domain={props.xDomain} ticks={props.xTicks}
        allowDataOverflow height={0} tickSize={0} tickMargin={0} axisLine={axisLine} tick={TopTick} interval={0} />
      <YAxis type="number" dataKey="y" yAxisId="l" domain={props.yDomain} ticks={props.yTicks} allowDataOverflow
        width={props.yAxisWidth} tickSize={0} tickMargin={0} axisLine={axisLine} tick={LeftTick} interval={0} />
      <YAxis type="number" dataKey="y" yAxisId="r" orientation="right" domain={props.yDomain} ticks={props.yTicks}
        allowDataOverflow width={0} tickSize={0} tickMargin={0} axisLine={axisLine} tick={RightTick} interval={0} />
      <Scatter xAxisId="b" yAxisId="l" data={toXY(props.gray)} shape={dot(GRAY, 2.4)} isAnimationActive={false} />
      <Scatter xAxisId="b" yAxisId="l" data={toXY(props.pigLine)} line={{ stroke: ORANGE, strokeWidth: 2.2 }}
        shape={noDot} isAnimationActive={false} />
      <Scatter xAxisId="b" yAxisId="l" data={toXY(props.ratLine)} line={{ stroke: RED, strokeWidth: 2.2 }}
        shape={noDot} isAnimationActive={false} />
      <Scatter xAxisId="b" yAxisId="l" data={toXY(props.mouseLine)} line={{ stroke: GREEN, strokeWidth: 2.2 }}
        shape={noDot} isAnimationActive={false} />
      <Scatter xAxisId="b" yAxisId="l" data={toXY(props.pig)} shape={dot(ORANGE, 3.2)} isAnimationActive={false} />
      <Scatter xAxisId="b" yAxisId="l" data={toXY(props.rat)} shape={dot(RED, 3.2)} isAnimationActive={false} />
      <Scatter xAxisId="b" yAxisId="l" data={toXY(props.mouse)} shape={dot(GREEN, 3.2)} isAnimationActive={false} />
    </ScatterChart>
  );
}

function Legend({ left, top, width, col2 }: { left: number; top: number; width: number; col2: number }) {
  const text: React.CSSProperties = { position: 'absolute', fontSize: 18, fontFamily: FONT, lineHeight: '20px', whiteSpace: 'nowrap' };
  const line = (x: number, y: number, c: string) => (
    <div style={{ position: 'absolute', left: x, top: y, width: 28, height: 2, background: c }} />
  );
  return (
    <div style={{ position: 'absolute', left, top, width, height: 58, border: '1px solid #333', background: '#fff', boxSizing: 'border-box' }}>
      {line(8, 13, ORANGE)}
      <span style={{ ...text, left: 50, top: 3 }}>pig-human</span>
      {line(8, 39, GREEN)}
      <span style={{ ...text, left: 50, top: 29 }}>mouse-human</span>
      {line(col2, 13, RED)}
      <span style={{ ...text, left: col2 + 44, top: 3 }}>rat-human</span>
      <div style={{ position: 'absolute', left: col2 + 12, top: 37, width: 5, height: 5, borderRadius: 3, background: GRAY }} />
      <span style={{ ...text, left: col2 + 44, top: 29 }}>pathway-tissue pair</span>
    </div>
  );
}

export default function App() {
  const label: React.CSSProperties = { position: 'absolute', fontSize: 18, fontFamily: FONT, whiteSpace: 'nowrap', color: '#000' };
  return (
    <div style={{ position: 'absolute', left: 0, top: 0, width: 1336, height: 666, background: '#fff', overflow: 'hidden' }}>
      <div style={{ position: 'absolute', left: 0, top: 0 }}>
        <Panel width={690} yAxisWidth={78} right={28} xDomain={[-1, 1]} yDomain={[-0.8, 0.8]} xTicks={ticksAX} yTicks={ticksAY}
          gray={grayA} pig={pigA} rat={ratA} mouse={mouseA} pigLine={pigLineA} ratLine={ratLineA} mouseLine={mouseLineA} />
      </div>
      <div style={{ position: 'absolute', left: 680, top: 0 }}>
        <Panel width={656} yAxisWidth={75} right={1} xDomain={[-0.6, 0.6]} yDomain={[-0.6, 0.6]} xTicks={ticksBX} yTicks={ticksBY}
          gray={grayB} pig={pigB} rat={ratB} mouse={mouseB} pigLine={pigLineB} ratLine={ratLineB} mouseLine={mouseLineB} />
      </div>
      <Legend left={87} top={34} width={532} col2={216} />
      <Legend left={763} top={34} width={445} col2={202} />
      <div style={{ ...label, left: 10, top: 6, fontSize: 24, fontWeight: 'bold' }}>A</div>
      <div style={{ ...label, left: 694, top: 6, fontSize: 24, fontWeight: 'bold' }}>B</div>
      <div style={{ ...label, left: 370, top: 643, transform: 'translateX(-50%)' }}>Principal Component 1: 0.825</div>
      <div style={{ ...label, left: 1045, top: 643, transform: 'translateX(-50%)' }}>Principal Component 2: 0.103</div>
      <div style={{ ...label, left: 22, top: 323, transform: 'translate(-50%, -50%) rotate(-90deg)' }}>Principal Component 2: 0.103</div>
      <div style={{ ...label, left: 700, top: 323, transform: 'translate(-50%, -50%) rotate(-90deg)' }}>Principal Component 3: 0.071</div>
    </div>
  );
}
